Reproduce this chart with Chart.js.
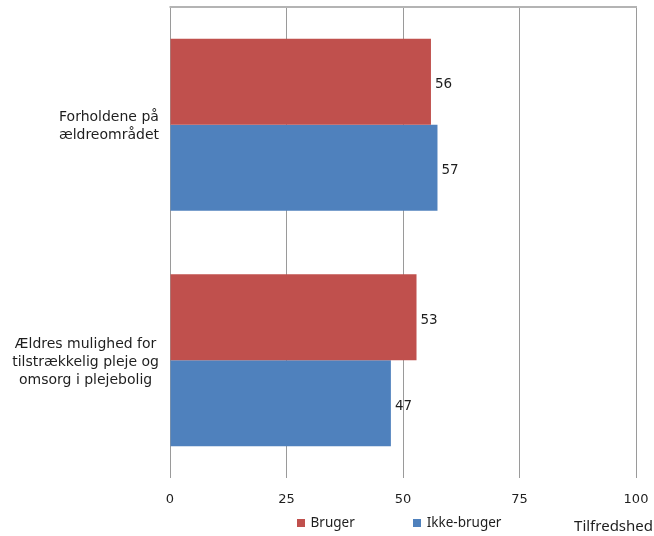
<!DOCTYPE html>
<html>
<head>
<meta charset="utf-8">
<script src="https://cdn.jsdelivr.net/npm/chart.js@4"></script>
<style>
html,body{margin:0;padding:0;background:#fff;}
#wrap{width:654px;height:536px;position:relative;}
</style>
</head>
<body>
<div id="wrap"><canvas id="c" width="654" height="536"></canvas></div>
<script>
const categories = [["Forholdene på", "ældreområdet"], ["Ældres mulighed for", "tilstrækkelig pleje og", "omsorg i plejebolig"]];
const seriesNames = ["Bruger", "Ikke-bruger"];
const brugerValues = [56, 52.9];
const ikkeBrugerValues = [57.4, 47.4];
const xTicks = [0, 25, 50, 75, 100];
const axisTitle = "Tilfredshed";

const colors = ["#C0504D", "#4F81BD"];
const textColor = "#1e1e1e";
const gridColor = "#9a9a9a";

const dataLabels = {
  id: 'dataLabels',
  afterDatasetsDraw(chart) {
    const ctx = chart.ctx;
    ctx.save();
    ctx.font = '13.5px "DejaVu Sans"';
    ctx.fillStyle = textColor;
    ctx.textAlign = 'left';
    ctx.textBaseline = 'middle';
    chart.data.datasets.forEach((ds, di) => {
      const meta = chart.getDatasetMeta(di);
      meta.data.forEach((el, i) => {
        ctx.fillText(String(Math.round(ds.data[i])), el.x + 4, el.y + 3);
      });
    });
    ctx.restore();
  }
};

// category labels: block right-aligned to the axis, lines centred inside the block
const catLabels = {
  id: 'catLabels',
  afterDraw(chart) {
    const ctx = chart.ctx;
    const ys = chart.scales.y;
    ctx.save();
    ctx.font = '14px "DejaVu Sans"';
    ctx.fillStyle = textColor;
    ctx.textAlign = 'center';
    ctx.textBaseline = 'middle';
    const lh = 17.8;
    const right = chart.chartArea.left - 11;
    chart.data.labels.forEach((lab, i) => {
      const lines = Array.isArray(lab) ? lab : [lab];
      const w = Math.max(...lines.map(l => ctx.measureText(l).width));
      const cx = right - w / 2;
      const cy = ys.getPixelForTick(i) + 2;
      lines.forEach((l, k) => {
        ctx.fillText(l, cx, cy + (k - (lines.length - 1) / 2) * lh);
      });
    });
    ctx.restore();
  }
};

const frame = {
  id: 'frame',
  afterDraw(chart) {
    const ctx = chart.ctx;
    const a = chart.chartArea;
    ctx.save();
    ctx.strokeStyle = '#b4b4b4';
    ctx.lineWidth = 2;
    ctx.beginPath();
    ctx.moveTo(a.left - 0.5, a.top);
    ctx.lineTo(a.right + 1, a.top);
    ctx.stroke();

    // legend
    ctx.font = '13.5px "Noto Sans"';
    ctx.textBaseline = 'middle';
    ctx.textAlign = 'left';
    const gap = 58, box = 8, sp = 6;
    const widths = chart.data.datasets.map(ds => box + sp + ctx.measureText(ds.label).width);
    const total = widths.reduce((s, w) => s + w, 0) + gap * (widths.length - 1);
    let x = (a.left + a.right) / 2 - 4 - total / 2;
    const y = 523.5;
    chart.data.datasets.forEach((ds, i) => {
      ctx.fillStyle = ds.backgroundColor;
      ctx.fillRect(Math.round(x), 519, box, box);
      ctx.fillStyle = textColor;
      ctx.fillText(ds.label, x + box + sp, y);
      x += widths[i] + gap;
    });

    // axis title
    ctx.font = '15px "Noto Sans"';
    ctx.textAlign = 'right';
    ctx.fillStyle = textColor;
    ctx.fillText(axisTitle, 653, 527);
    ctx.restore();
  }
};

new Chart(document.getElementById('c'), {
  type: 'bar',
  data: {
    labels: categories,
    datasets: [
      { label: seriesNames[0], data: brugerValues, backgroundColor: colors[0], categoryPercentage: 0.73, barPercentage: 1.0 },
      { label: seriesNames[1], data: ikkeBrugerValues, backgroundColor: colors[1], categoryPercentage: 0.73, barPercentage: 1.0 }
    ]
  },
  options: {
    indexAxis: 'y',
    responsive: false,
    animation: false,
    devicePixelRatio: 1,
    layout: { padding: { top: 7, right: 18, left: 0, bottom: 0 } },
    plugins: {
      legend: { display: false },
      tooltip: { enabled: false }
    },
    scales: {
      x: {
        min: 0, max: 100,
        afterBuildTicks(scale) { scale.ticks = xTicks.map(v => ({ value: v })); },
        afterFit(scale) { scale.height = 58; scale.paddingLeft = 0; scale.paddingRight = 0; },
        grid: { color: gridColor, lineWidth: 1, drawTicks: false },
        border: { display: false },
        ticks: { color: textColor, font: { family: 'DejaVu Sans', size: 13 }, padding: 14, maxRotation: 0 }
      },
      y: {
        afterFit(scale) { scale.width = 170; scale.paddingTop = 0; scale.paddingBottom = 0; },
        grid: { display: false, drawTicks: false },
        border: { display: false },
        ticks: { display: false }
      }
    }
  },
  plugins: [dataLabels, catLabels, frame]
});
</script>
</body>
</html>
